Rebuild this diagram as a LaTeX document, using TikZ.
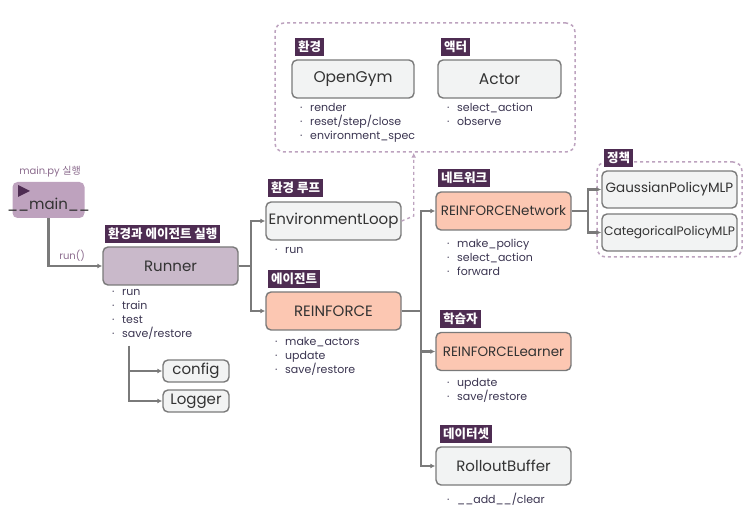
\documentclass[tikz,border=0pt]{standalone}
\usepackage{fontspec}
\setmainfont{Poppins}
\newfontfamily\kr{Noto Sans CJK KR}
\usetikzlibrary{arrows.meta}

\definecolor{tagpurple}{HTML}{4E2C52}
\definecolor{mainfill}{HTML}{BEA2BE}
\definecolor{runfill}{HTML}{C9B9CA}
\definecolor{agentfill}{HTML}{FCC7B2}
\definecolor{plainfill}{HTML}{F2F3F3}
\definecolor{edgegray}{HTML}{7A7A7A}
\definecolor{dashpurple}{HTML}{BDA3BF}
\definecolor{inktext}{HTML}{333333}
\definecolor{listtext}{HTML}{3A3450}
\definecolor{softtext}{HTML}{8C6C8E}

\newcommand\bul[1]{\makebox[10pt][l]{·}#1}

\tikzset{
  box/.style = {draw=edgegray, line width=1.4pt, rounded corners=5pt,
                minimum width=#1, minimum height=38pt, inner sep=0pt,
                text=inktext, font=\fontsize{15}{16}\selectfont},
  box/.default = 135pt,
  tag/.style = {fill=tagpurple, text=white, inner sep=3pt, anchor=south west,
                font=\kr\bfseries\fontsize{12.5}{14}\selectfont},
  items/.style = {align=left, anchor=north west, inner sep=0pt,
                  text=listtext, font=\fontsize{11}{14}\selectfont},
  link/.style = {draw=edgegray, line width=2.3pt, -{Latex[length=5pt,width=5pt]}},
  hint/.style = {draw=dashpurple, dashed, line width=1.4pt, -{Latex[length=5pt,width=5pt]}},
  group/.style = {draw=dashpurple, dashed, line width=1.5pt, rounded corners=9pt,
                  inner sep=0pt}
}

\begin{document}
\begin{tikzpicture}[x=1pt, y=-1pt]
	\useasboundingbox (0,0) rectangle (753,518);

	% Groups
	\node[group, minimum width=300pt, minimum height=129pt] (envgroup) at (425,87.5) {};
	\node[group, minimum width=145pt, minimum height=95pt] (policygroup) at (669.5,209.5) {};

	% Entry point
	\node[fill=mainfill, rounded corners=5pt, minimum width=72pt, minimum height=36pt] (main) at (48.5,200) {};
	\fill[tagpurple] (18,185) -- (30,191) -- (18,197) -- cycle;
	\node[text=inktext, font=\fontsize{15}{16}\selectfont, inner sep=0pt] (mainname) at (48.5,205) {\_\_main\_\_};
	\node[text=softtext, font=\fontsize{10}{12}\selectfont, inner sep=0pt] (mainrun) at (50,172) {main.py {\kr 실행}};

	% Boxes
	\node[box, fill=runfill] (runner) at (170.5,266) {Runner};
	\node[box, fill=plainfill] (envloop) at (333.5,221) {EnvironmentLoop};
	\node[box, fill=agentfill] (reinforce) at (333.5,311) {REINFORCE};
	\node[box, fill=agentfill, font=\fontsize{13.5}{15}\selectfont] (network) at (503.5,211) {REINFORCENetwork};
	\node[box, fill=agentfill, font=\fontsize{13.5}{15}\selectfont] (learner) at (503.5,351.5) {REINFORCELearner};
	\node[box, fill=plainfill] (buffer) at (503.5,466) {RolloutBuffer};
	\node[box, fill=plainfill, minimum height=37pt, font=\fontsize{13.5}{15}\selectfont] (gaussian) at (669.5,189.5) {GaussianPolicyMLP};
	\node[box, fill=plainfill, minimum height=37pt, font=\fontsize{12.3}{14}\selectfont] (categorical) at (669.5,232.5) {CategoricalPolicyMLP};
	\node[box=122pt, fill=plainfill, font=\fontsize{15.5}{16}\selectfont] (opengym) at (353,79) {OpenGym};
	\node[box=123pt, fill=plainfill, font=\fontsize{15.5}{16}\selectfont] (actor) at (499.5,79) {Actor};
	\node[box=66pt, fill=plainfill, minimum height=22pt] (config) at (196,371) {config};
	\node[box=66pt, fill=plainfill, minimum height=22pt] (logger) at (196,401) {Logger};

	% Tags
	\node[tag] (runnertag) at (105,243) {환경과 에이전트 실행};
	\node[tag] (envlooptag) at (268,197) {환경 루프};
	\node[tag] (reinforcetag) at (268,288) {에이전트};
	\node[tag] (networktag) at (438,187) {네트워크};
	\node[tag] (learnertag) at (440,328) {학습자};
	\node[tag] (buffertag) at (440,443) {데이터셋};
	\node[tag] (opengymtag) at (295,56) {환경};
	\node[tag] (actortag) at (441,56) {액터};
	\node[tag] (policytag) at (604,167) {정책};

	% Method lists
	\node[items] (runnerlist) at (112,289) {\bul{run}\\ \bul{train}\\ \bul{test}\\ \bul{save/restore}};
	\node[items] (envlooplist) at (275,247) {\bul{run}};
	\node[items] (reinforcelist) at (275,337) {\bul{make\_actors}\\ \bul{update}\\ \bul{save/restore}};
	\node[items] (networklist) at (447,239) {\bul{make\_policy}\\ \bul{select\_action}\\ \bul{forward}};
	\node[items] (learnerlist) at (447,378) {\bul{update}\\ \bul{save/restore}};
	\node[items] (bufferlist) at (447,493) {\bul{\_\_add\_\_/clear}};
	\node[items] (opengymlist) at (300,103) {\bul{render}\\ \bul{reset/step/close}\\ \bul{environment\_spec}};
	\node[items] (actorlist) at (447,103) {\bul{select\_action}\\ \bul{observe}};

	% Links
	\draw[link] (main.south) |- node[pos=0.72, above, text=softtext, font=\fontsize{10}{12}\selectfont] {run()} (runner.west);
	\draw[link] (runner.east) -- ++(12,0) |- (envloop.west);
	\draw[link] (runner.east) -- ++(12,0) |- (reinforce.west);
	\draw[link] (reinforce.east) -- ++(19,0) |- (network.west);
	\draw[link] (reinforce.east) -- ++(19,0) |- (learner.west);
	\draw[link] (reinforce.east) -- ++(19,0) |- (buffer.west);
	\draw[link] (network.east) -- ++(16,0) |- (gaussian.west);
	\draw[link] (network.east) -- ++(16,0) |- (categorical.west);
	\coordinate (cfgroot) at (129,346);
	\draw[link] (cfgroot) |- (config.west);
	\draw[link] (cfgroot) |- (logger.west);
	\draw[hint] (envloop.east) -- ++(12,-5) coordinate (bend) -- (bend |- envgroup.south);

\end{tikzpicture}
\end{document}
